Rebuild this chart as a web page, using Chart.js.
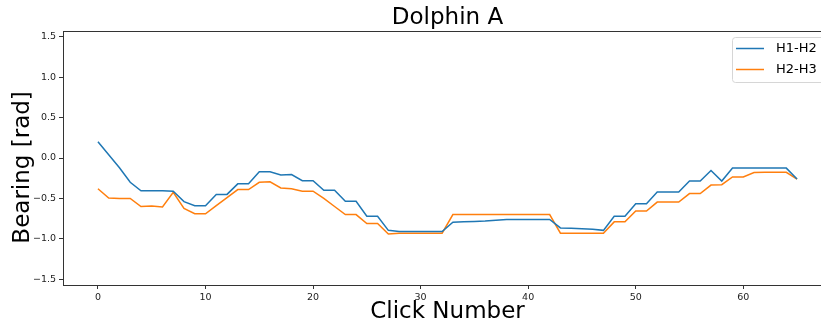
<!DOCTYPE html>
<html>
<head>
<meta charset="utf-8">
<script src="https://cdn.jsdelivr.net/npm/chart.js@4"></script>
<style>
    html, body { margin: 0; padding: 0; background: #fff; overflow: hidden; }
    #chart-wrapper { position: relative; width: 832px; height: 326px; }
</style>
</head>
<body>
<div id="chart-wrapper">
    <canvas id="bearingChart"></canvas>
</div>
<script>
    var clickNumbers = [
        0, 1, 2, 3, 4, 5, 6, 7, 8, 9,
        10, 11, 12, 13, 14, 15, 16, 17, 18, 19,
        20, 21, 22, 23, 24, 25, 26, 27, 28, 29,
        30, 31, 32, 33, 34, 35, 36, 37, 38, 39,
        40, 41, 42, 43, 44, 45, 46, 47, 48, 49,
        50, 51, 52, 53, 54, 55, 56, 57, 58, 59,
        60, 61, 62, 63, 64, 65
    ];
    var h1h2 = [
        0.20, 0.04, -0.12, -0.30, -0.405, -0.405, -0.405, -0.41, -0.54, -0.59,
        -0.59, -0.45, -0.45, -0.32, -0.32, -0.17, -0.17, -0.21, -0.205, -0.28,
        -0.28, -0.40, -0.40, -0.535, -0.535, -0.72, -0.72, -0.895, -0.91, -0.91,
        -0.91, -0.91, -0.91, -0.795, -0.79, -0.785, -0.78, -0.77, -0.76, -0.76,
        -0.76, -0.76, -0.76, -0.865, -0.87, -0.875, -0.88, -0.895, -0.72, -0.72,
        -0.565, -0.565, -0.42, -0.42, -0.42, -0.285, -0.285, -0.155, -0.285, -0.125,
        -0.125, -0.125, -0.125, -0.125, -0.125, -0.26
    ];
    var h2h3 = [
        -0.38, -0.495, -0.50, -0.50, -0.60, -0.595, -0.605, -0.425, -0.625, -0.69,
        -0.69, -0.59, -0.49, -0.39, -0.39, -0.30, -0.295, -0.37, -0.38, -0.41,
        -0.41, -0.50, -0.60, -0.70, -0.70, -0.81, -0.81, -0.94, -0.93, -0.93,
        -0.93, -0.93, -0.93, -0.70, -0.70, -0.70, -0.70, -0.70, -0.70, -0.70,
        -0.70, -0.70, -0.70, -0.93, -0.93, -0.93, -0.93, -0.93, -0.79, -0.79,
        -0.655, -0.655, -0.545, -0.545, -0.545, -0.44, -0.44, -0.335, -0.33, -0.235,
        -0.235, -0.18, -0.177, -0.177, -0.177, -0.26
    ];
    var xTicks = [0, 10, 20, 30, 40, 50, 60];
    var yTicks = [-1.5, -1.0, -0.5, 0.0, 0.5, 1.0, 1.5];

    function toPoints(xs, ys) {
        return xs.map(function (x, i) { return { x: x, y: ys[i] }; });
    }

    // 축 테두리 (matplotlib 스타일)
    var framePlugin = {
        id: 'frame',
        beforeDatasetsDraw: function (chart) {
            var a = chart.chartArea, ctx = chart.ctx;
            ctx.save();
            ctx.strokeStyle = '#333';
            ctx.lineWidth = 1;
            ctx.strokeRect(a.left + 0.5, a.top + 0.5, a.right - a.left, a.bottom - a.top);
            ctx.restore();
        }
    };

    // 범례 박스
    var legendBoxPlugin = {
        id: 'legendBox',
        afterDatasetsDraw: function (chart) {
            var ctx = chart.ctx, a = chart.chartArea;
            var w = 94, h = 45;
            var x = a.right - 6 - w, y = a.top + 6;
            ctx.save();
            ctx.beginPath();
            ctx.roundRect(x + 0.5, y + 0.5, w, h, 3);
            ctx.fillStyle = 'rgba(255,255,255,0.8)';
            ctx.fill();
            ctx.strokeStyle = '#d6d6d6';
            ctx.lineWidth = 1;
            ctx.stroke();
            ctx.font = '13px "DejaVu Sans"';
            ctx.textBaseline = 'middle';
            chart.data.datasets.forEach(function (ds, i) {
                var cy = y + 11.5 + i * 21;
                ctx.strokeStyle = ds.borderColor;
                ctx.lineWidth = 1.5;
                ctx.beginPath();
                ctx.moveTo(x + 4, cy);
                ctx.lineTo(x + 32, cy);
                ctx.stroke();
                ctx.fillStyle = '#000';
                ctx.fillText(ds.label, x + 44, cy);
            });
            ctx.restore();
        }
    };

    function fmt(v) {
        return v.toFixed(1).replace('-', '\u2212');
    }

    var chart = new Chart('bearingChart', {
        type: 'line',
        data: {
            datasets: [{
                label: 'H1-H2',
                data: toPoints(clickNumbers, h1h2),
                borderColor: '#1f77b4',
                borderWidth: 1.5,
                pointRadius: 0,
                tension: 0,
                fill: false
            }, {
                label: 'H2-H3',
                data: toPoints(clickNumbers, h2h3),
                borderColor: '#ff7f0e',
                borderWidth: 1.5,
                pointRadius: 0,
                tension: 0,
                fill: false
            }]
        },
        options: {
            animation: false,
            responsive: true,
            maintainAspectRatio: false,
            layout: { padding: { left: 0, right: 0, top: 0, bottom: 0 } },
            plugins: {
                legend: { display: false },
                tooltip: { enabled: false },
                title: {
                    display: true,
                    fullSize: false,
                    text: 'Dolphin A',
                    color: '#000',
                    font: { family: 'DejaVu Sans', size: 23, weight: 'normal' },
                    padding: { top: 4, bottom: -0.6 }
                }
            },
            scales: {
                x: {
                    type: 'linear',
                    min: -3.25,
                    max: 68.25,
                    afterBuildTicks: function (scale) {
                        scale.ticks = xTicks.map(function (v) { return { value: v }; });
                    },
                    afterFit: function (scale) { scale.height = 41; },
                    grid: { display: true, drawOnChartArea: false, drawTicks: true, tickLength: 4, color: '#333' },
                    border: { display: false },
                    ticks: {
                        color: '#222',
                        padding: 3,
                        maxRotation: 0,
                        font: { family: 'DejaVu Sans', size: 9.5 },
                        callback: function (v) { return String(v); }
                    },
                    title: {
                        display: true,
                        text: 'Click Number',
                        color: '#000',
                        font: { family: 'DejaVu Sans', size: 23 },
                        padding: { top: 0, bottom: 0 }
                    }
                },
                y: {
                    type: 'linear',
                    min: -Math.PI / 2,
                    max: Math.PI / 2,
                    afterBuildTicks: function (scale) {
                        scale.ticks = yTicks.map(function (v) { return { value: v }; });
                    },
                    afterFit: function (scale) { scale.width = 63; },
                    grid: { display: true, drawOnChartArea: false, drawTicks: true, tickLength: 4, color: '#333' },
                    border: { display: false },
                    ticks: {
                        color: '#222',
                        padding: 3,
                        font: { family: 'DejaVu Sans', size: 9.5 },
                        callback: function (v) { return fmt(v); }
                    },
                    title: {
                        display: true,
                        text: 'Bearing [rad]\u2002 ',
                        color: '#000',
                        font: { family: 'DejaVu Sans', size: 23 },
                        padding: { top: 9.6, bottom: 0 }
                    }
                }
            }
        },
        plugins: [framePlugin, legendBoxPlugin]
    });
</script>
</body>
</html>
